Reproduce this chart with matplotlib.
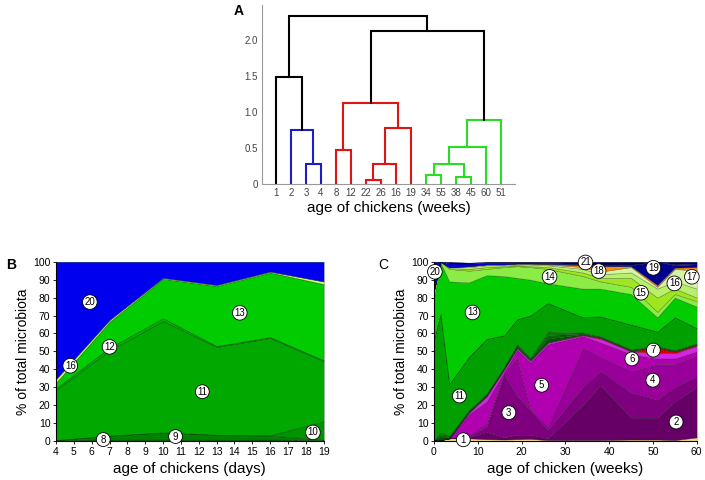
import numpy as np
import matplotlib
matplotlib.use('Agg')
import matplotlib.pyplot as plt

plt.rcParams['font.family'] = ['Liberation Sans', 'DejaVu Sans']

# ---- panel A: dendrogram of sampling ages (weeks)
leaf_labels = ['1', '2', '3', '4', '8', '12', '22', '26', '16', '19',
               '34', '55', '38', '45', '60', '51']
# merges: ids < 16 are leaves, id 16+k is merge k
merge_left = [2, 1, 0, 4, 6, 20, 21, 19, 10, 12, 24, 26, 27, 23, 18]
merge_right = [3, 16, 17, 5, 7, 8, 9, 22, 11, 13, 25, 14, 15, 28, 29]
merge_height = [0.27, 0.75, 1.48, 0.47, 0.05, 0.27, 0.77, 1.12,
                 0.13, 0.10, 0.27, 0.51, 0.88, 2.12, 2.33]
merge_color = ['b', 'b', 'k', 'r', 'r', 'r', 'r', 'r',
               'g', 'g', 'g', 'g', 'g', 'k', 'k']
dcol = {'b': '#1c1ccc', 'r': '#e01414', 'g': '#28dc28', 'k': 'black'}

# ---- panel B: days 4-19
b_days = [4, 7, 10, 13, 16, 19]
b_ids = ['8', '9', '10', '11', '12', '13', '16', '20']
b_vals = [
    [0.3, 1.0, 1.0, 1.0, 0.8, 0.5],        # 8
    [0.2, 2.0, 3.8, 2.5, 2.2, 0.3],        # 9
    [0.0, 0.0, 0.0, 0.0, 0.2, 10.2],       # 10
    [28.0, 47.5, 62.2, 49.0, 54.3, 33.5],  # 11
    [1.0, 1.5, 1.5, 0.5, 0.5, 0.5],        # 12
    [3.0, 14.5, 22.0, 33.5, 36.0, 42.5],   # 13
    [2.0, 1.0, 0.5, 0.5, 0.5, 1.5],        # 16
    [65.5, 32.5, 9.0, 13.0, 5.5, 11.0],    # 20
]
b_colors = ['#006400', '#008200', '#009400', '#00a800', '#00b400',
            '#00cc00', '#ccff66', '#0000ee']
b_tags = {'20': (5.9, 77.5), '16': (4.8, 42), '12': (7.0, 52.5),
          '13': (14.3, 71.5), '11': (12.2, 27.5), '8': (6.65, 0.8),
          '9': (10.7, 2.5), '10': (18.4, 4.8)}

# ---- panel C: weeks 0-60
c_weeks = [0, 1.5, 3.5, 8, 12, 16, 19, 22, 26, 34, 38, 45, 51, 55, 60]
c_ids = [str(i) for i in range(1, 22)]
c_vals = [
    [0.5, 0.5, 1.5, 1.5, 1.0, 0.8, 1.0, 1.2, 0.5, 0.5, 0.5, 0.8, 0.8, 0.5, 2.0],   # 1
    [0.0, 0.0, 0.0, 0.5, 4.0, 1.2, 2.5, 2.3, 1.0, 19.5, 30.5, 12.2, 12.2, 21.5, 28.0],  # 2
    [0.0, 0.0, 0.0, 0.5, 3.0, 35.0, 21.5, 13.5, 4.5, 10.0, 8.0, 14.0, 10.0, 8.0, 6.0],  # 3
    [0.0, 0.0, 0.0, 0.5, 2.0, 1.0, 21.0, 1.0, 2.0, 22.0, 8.0, 12.0, 20.0, 13.0, 11.5],  # 4
    [0.0, 0.0, 0.0, 12.0, 12.0, 0.5, 5.0, 26.0, 46.0, 6.5, 8.0, 9.5, 3.0, 3.0, 2.5],   # 5
    [0.0, 0.0, 0.0, 1.0, 3.0, 1.5, 1.0, 1.0, 1.0, 0.5, 2.0, 1.5, 3.0, 3.0, 3.0],     # 6
    [0.0, 0.0, 0.0, 0.0, 0.0, 0.0, 0.0, 0.0, 0.0, 0.3, 0.5, 0.3, 3.0, 0.8, 0.5],     # 7
    [0.0, 1.5, 0.5, 0.5, 0.5, 0.5, 1.0, 0.5, 2.0, 0.3, 0.3, 0.3, 0.3, 0.3, 0.3],     # 8
    [0.0, 1.5, 0.5, 0.5, 0.5, 0.5, 0.5, 0.5, 2.0, 0.4, 0.3, 0.3, 0.3, 0.3, 0.3],     # 9
    [0.0, 1.5, 0.5, 0.5, 0.5, 0.5, 0.5, 0.5, 2.0, 0.5, 0.4, 0.3, 0.4, 0.4, 0.4],     # 10
    [56.5, 66.0, 29.0, 29.5, 30.5, 17.5, 14.0, 23.5, 16.0, 8.5, 11.0, 13.8, 8.0, 18.2, 8.5],  # 11
    [0.0, 0.0, 0.0, 0.0, 0.0, 0.0, 0.0, 0.0, 0.0, 0.0, 0.0, 0.0, 0.0, 0.0, 0.0],     # 12
    [23.0, 28.5, 57.0, 41.5, 35.5, 33.0, 23.0, 20.0, 11.0, 16.0, 15.5, 17.0, 8.0, 11.0, 12.0],  # 13
    [4.0, 0.5, 7.0, 6.5, 3.5, 5.0, 6.5, 7.0, 8.0, 7.0, 4.0, 4.0, 3.0, 2.0, 3.0],     # 14
    [0.0, 0.0, 0.5, 1.0, 1.0, 0.5, 0.5, 0.5, 1.0, 2.0, 2.0, 5.0, 8.0, 3.0, 2.0],     # 15
    [0.0, 0.0, 0.5, 1.0, 1.0, 0.5, 0.5, 1.0, 1.0, 2.0, 2.0, 3.0, 5.0, 4.0, 5.0],     # 16
    [0.0, 0.0, 0.0, 0.5, 0.5, 0.5, 0.5, 0.5, 0.5, 1.0, 1.5, 3.0, 1.0, 7.0, 10.0],    # 17
    [0.0, 0.0, 0.0, 0.0, 0.0, 0.0, 0.0, 0.0, 0.3, 1.0, 3.0, 0.5, 1.0, 0.7, 2.0],     # 18
    [0.0, 0.0, 0.0, 0.0, 0.0, 0.0, 0.0, 0.0, 0.2, 0.5, 0.5, 0.5, 13.0, 1.3, 1.5],    # 19
    [16.0, 0.0, 2.0, 1.5, 1.0, 1.0, 0.5, 0.5, 0.3, 0.2, 0.3, 0.3, 0.0, 0.5, 0.5],    # 20
    [0.0, 0.0, 1.0, 0.5, 0.5, 0.5, 0.5, 0.5, 0.7, 1.3, 1.7, 1.7, 0.0, 1.5, 1.0],     # 21
]
c_colors = ['#f0e070', '#660066', '#7f007f', '#990099', '#b000b0', '#d424e4',
            '#dd0000', '#005500', '#006a00', '#007f00', '#00a000', '#00b400',
            '#00cc00', '#8cec46', '#9ee620', '#b8f06a', '#d4f5a4', '#ff8c00',
            '#000090', '#0000dd', '#000050']
c_tags = {'20': (0.2, 94.4), '21': (34.6, 99.6), '18': (37.6, 94.8),
          '14': (26.4, 91.6), '19': (50.1, 96.6), '16': (54.9, 87.9),
          '17': (58.9, 91.6), '15': (47.3, 82.7), '13': (8.8, 71.7),
          '7': (50.1, 50.7), '6': (45.2, 45.8), '4': (50.0, 33.9),
          '5': (24.6, 31.1), '11': (5.8, 25.1), '3': (17.1, 15.8),
          '2': (55.3, 10.6), '1': (6.7, 0.7)}


def tag(ax, x, y, s):
    ax.text(x, y, s, ha='center', va='center', fontsize=7, zorder=6,
            bbox=dict(boxstyle='circle,pad=0.2', fc='white', ec='black', lw=0.6))


fig = plt.figure(figsize=(7.05, 4.8), dpi=100)

# ---------------- A
axA = fig.add_axes([0.3716, 0.6167, 0.3589, 0.373])
xpos = {i: float(i) for i in range(len(leaf_labels))}
ypos = {i: 0.0 for i in range(len(leaf_labels))}
for k, (l, r, h, c) in enumerate(zip(merge_left, merge_right, merge_height, merge_color)):
    axA.plot([xpos[l], xpos[l], xpos[r], xpos[r]], [ypos[l], h, h, ypos[r]],
             color=dcol[c], lw=1.5, solid_joinstyle='miter')
    node = len(leaf_labels) + k
    xpos[node] = (xpos[l] + xpos[r]) / 2
    ypos[node] = h
axA.set_xlim(-0.93, 15.93)
axA.set_ylim(0, 2.48)
axA.set_xticks(range(len(leaf_labels)))
axA.set_xticklabels(leaf_labels)
axA.set_yticks([0, 0.5, 1.0, 1.5, 2.0])
axA.set_yticklabels(['0', '0.5', '1.0', '1.5', '2.0'])
axA.tick_params(labelsize=7, labelcolor='#444444', length=0, pad=3)
for s in ['top', 'right']:
    axA.spines[s].set_visible(False)
for s in ['left', 'bottom']:
    axA.spines[s].set_color('#999999')
    axA.spines[s].set_linewidth(0.8)
axA.set_xlabel('age of chickens (weeks)', fontsize=11, labelpad=2)
fig.text(0.331, 0.978, 'A', fontsize=10, fontweight='bold', va='center')

# ---------------- B
axB = fig.add_axes([0.0794, 0.08125, 0.3797, 0.3735])
axB.stackplot(b_days, b_vals, colors=b_colors, edgecolor=(0, 0.2, 0, 0.6), linewidth=0.4)
for k, (x, y) in b_tags.items():
    tag(axB, x, y, k)
axB.set_xlim(4, 19)
axB.set_ylim(0, 100)
axB.set_xticks(range(4, 20))
axB.set_yticks(range(0, 101, 10))
axB.tick_params(labelsize=7.5, length=2.5, width=0.6, pad=1.5)
for s in ['top', 'right']:
    axB.spines[s].set_visible(False)
axB.set_xlabel('age of chickens (days)', fontsize=11, labelpad=4)
axB.set_ylabel('% of total microbiota', fontsize=10, labelpad=2)
fig.text(0.009, 0.447, 'B', fontsize=10, fontweight='bold', va='center')

# ---------------- C
axC = fig.add_axes([0.6156, 0.08125, 0.3726, 0.3735])
axC.stackplot(c_weeks, c_vals, colors=c_colors, edgecolor=(0, 0, 0, 0.35), linewidth=0.4)
for k, (x, y) in c_tags.items():
    tag(axC, x, y, k)
axC.set_xlim(0, 60)
axC.set_ylim(0, 100)
axC.set_xticks(range(0, 61, 10))
axC.set_yticks(range(0, 101, 10))
axC.tick_params(labelsize=7.5, length=2.5, width=0.6, pad=1.5)
for s in ['top', 'right']:
    axC.spines[s].set_visible(False)
axC.set_xlabel('age of chicken (weeks)', fontsize=11, labelpad=4)
axC.set_ylabel('% of total microbiota', fontsize=10, labelpad=2)
fig.text(0.536, 0.447, 'C', fontsize=10, va='center')

fig.savefig('out.png', dpi=100, facecolor='white')
